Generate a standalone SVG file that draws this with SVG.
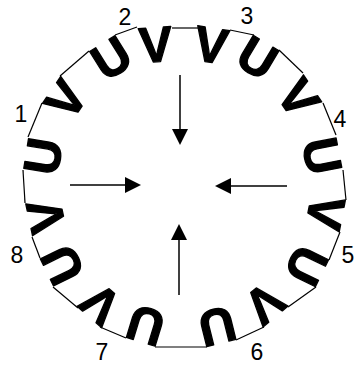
<svg xmlns="http://www.w3.org/2000/svg" width="356" height="366" viewBox="0 0 356 366">
<defs>
<style>
.t{font-family:"Liberation Sans",Arial,sans-serif;font-weight:bold;font-size:50px;fill:#000;stroke:#000;stroke-width:1.3;stroke-linejoin:round;text-anchor:middle}
.n{font-family:"Liberation Sans",Arial,sans-serif;font-size:23px;fill:#000;text-anchor:middle}
.ring line{stroke:#000;stroke-width:1.2;fill:none}
.arr line{stroke:#000;stroke-width:1.5;fill:none;marker-end:url(#ah)}
</style>
<marker id="ah" markerUnits="userSpaceOnUse" markerWidth="16" markerHeight="16" refX="6" refY="8" orient="auto">
<path d="M0,0 L16,8 L0,16 Z" fill="#000"/>
</marker>
</defs>
<rect width="356" height="366" fill="#fff"/>
<g id="ring" class="ring">
<line x1="230" y1="30" x2="254" y2="35"/>
<line x1="279" y1="50" x2="303" y2="73"/>
<line x1="323" y1="103" x2="336" y2="135"/>
<line x1="343" y1="170" x2="346" y2="200"/>
<line x1="340" y1="232" x2="329" y2="260"/>
<line x1="316" y1="287" x2="288" y2="307"/>
<line x1="264" y1="327" x2="236" y2="340"/>
<line x1="207" y1="347" x2="155" y2="347"/>
<line x1="126" y1="338" x2="100" y2="327"/>
<line x1="78" y1="308" x2="53" y2="287"/>
<line x1="40" y1="258" x2="32" y2="237"/>
<line x1="25" y1="203" x2="23" y2="170"/>
<line x1="28" y1="137" x2="42" y2="103"/>
<line x1="60" y1="76" x2="89" y2="51"/>
<line x1="115" y1="35" x2="137" y2="27"/>
<line x1="172" y1="28" x2="198" y2="28"/>
</g>
<g id="letters">
<text class="t" transform="translate(214,27.5) rotate(9)" y="35">V</text>
<text class="t" transform="translate(266.5,42.5) rotate(31)" y="35">U</text>
<text class="t" transform="translate(313,88) rotate(56)" y="35">V</text>
<text class="t" transform="translate(339.5,152.5) rotate(79)" y="35">U</text>
<text class="t" transform="translate(343,216) rotate(101)" y="35">V</text>
<text class="t" transform="translate(322.5,273.5) rotate(116)" y="35">U</text>
<text class="t" transform="translate(276,317) rotate(140)" y="35">V</text>
<text class="t" transform="translate(221.5,343.5) rotate(166)" y="35">U</text>
<text class="t" transform="translate(140.5,342.5) rotate(197)" y="35">U</text>
<text class="t" transform="translate(89,317.5) rotate(221)" y="35">V</text>
<text class="t" transform="translate(46.5,272.5) rotate(244)" y="35">U</text>
<text class="t" transform="translate(28.5,220) rotate(258)" y="35">V</text>
<text class="t" transform="translate(25.5,153.5) rotate(279)" y="35">U</text>
<text class="t" transform="translate(51,89.5) rotate(304)" y="35">V</text>
<text class="t" transform="translate(102,43) rotate(328)" y="35">U</text>
<text class="t" transform="translate(154.5,27) rotate(-4)" y="35">V</text>
</g>
<g id="labels">
<text class="n" x="21" y="122">1</text>
<text class="n" x="125" y="25">2</text>
<text class="n" x="247" y="24">3</text>
<text class="n" x="340" y="127">4</text>
<text class="n" x="348" y="263">5</text>
<text class="n" x="257" y="360">6</text>
<text class="n" x="102" y="360">7</text>
<text class="n" x="17" y="263">8</text>
</g>
<g id="connectors" class="arr">
<line x1="180" y1="75" x2="180" y2="135"/>
<line x1="70" y1="185" x2="131" y2="185"/>
<line x1="287" y1="186" x2="225" y2="186"/>
<line x1="179" y1="295" x2="179" y2="234"/>
</g>
</svg>
